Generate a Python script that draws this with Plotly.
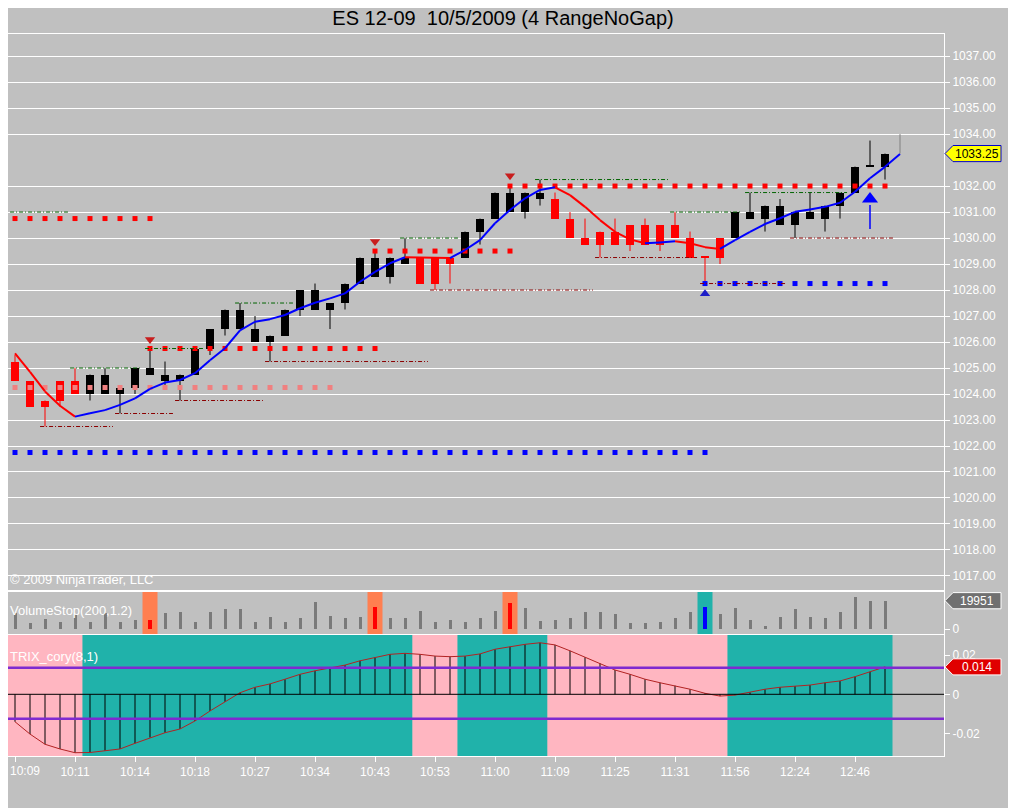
import plotly.graph_objects as go
from plotly.subplots import make_subplots

# ---- dados (range bars de 4 ticks, ultima barra ainda em formacao)
opens = [1025.25, 1024.5, 1023.75, 1024.5, 1024.5, 1024.0, 1024.0, 1024.0, 1024.25, 1024.75,
         1024.5, 1024.5, 1024.75, 1025.75, 1026.5, 1026.5, 1026.0, 1026.0, 1026.25, 1027.25,
         1027.25, 1027.25, 1027.5, 1028.25, 1028.5, 1028.5, 1029.0, 1029.25, 1029.25, 1029.25,
         1029.25, 1030.25, 1030.75, 1031.0, 1031.0, 1031.5, 1031.5, 1030.75, 1030.0, 1030.25,
         1030.25, 1030.5, 1030.5, 1030.5, 1030.5, 1030.0, 1029.25, 1030.0, 1030.0, 1030.75,
         1030.75, 1030.5, 1030.5, 1030.75, 1030.75, 1031.25, 1031.75, 1032.75, 1032.75, 1033.25]
highs = [1025.5, 1024.5, 1023.75, 1024.5, 1025.0, 1024.75, 1025.0, 1024.25, 1025.0, 1025.75,
         1025.25, 1024.75, 1025.75, 1026.5, 1027.25, 1027.5, 1027.0, 1026.25, 1027.25, 1028.0,
         1028.25, 1027.5, 1028.25, 1029.25, 1029.5, 1029.25, 1030.0, 1029.25, 1029.25, 1029.25,
         1030.25, 1030.75, 1031.75, 1032.0, 1031.75, 1032.25, 1031.75, 1031.0, 1030.75, 1030.25,
         1030.75, 1030.5, 1030.75, 1030.5, 1031.0, 1030.25, 1029.25, 1030.0, 1031.0, 1031.75,
         1031.25, 1031.5, 1031.0, 1031.75, 1031.25, 1031.75, 1032.75, 1033.75, 1033.25, 1034.0]
lows = [1024.5, 1023.5, 1022.75, 1023.5, 1024.0, 1023.75, 1024.0, 1023.25, 1024.0, 1024.75,
        1024.25, 1023.75, 1024.75, 1025.5, 1026.25, 1026.5, 1026.0, 1025.25, 1026.25, 1027.0,
        1027.25, 1026.5, 1027.25, 1028.25, 1028.5, 1028.25, 1029.0, 1028.25, 1028.0, 1028.25,
        1029.25, 1029.75, 1030.75, 1031.0, 1030.75, 1031.25, 1030.75, 1030.0, 1029.75, 1029.25,
        1029.75, 1029.5, 1029.75, 1029.5, 1030.0, 1029.25, 1028.25, 1029.0, 1030.0, 1030.75,
        1030.25, 1030.5, 1030.0, 1030.75, 1030.25, 1030.75, 1031.75, 1032.75, 1032.25, 1033.25]
closes = [1024.5, 1023.5, 1023.5, 1023.75, 1024.0, 1024.75, 1024.75, 1024.25, 1025.0, 1025.0,
          1024.75, 1024.75, 1025.75, 1026.5, 1027.25, 1027.25, 1026.5, 1026.25, 1027.25, 1028.0,
          1028.0, 1027.5, 1028.25, 1029.25, 1029.25, 1029.25, 1029.25, 1028.25, 1028.25, 1029.0,
          1030.25, 1030.75, 1031.75, 1031.75, 1031.75, 1031.75, 1030.75, 1030.0, 1029.75, 1029.75,
          1029.75, 1029.75, 1029.75, 1029.75, 1030.0, 1029.25, 1029.25, 1029.25, 1031.0, 1031.0,
          1031.25, 1031.25, 1031.0, 1031.0, 1031.25, 1031.75, 1032.75, 1032.75, 1033.25, 1033.25]

# media movel (vermelha quando cai, azul quando sobe)
ema = [1025.56, 1024.85, 1024.1, 1023.55, 1023.13, 1023.26, 1023.38, 1023.58, 1023.83, 1024.2,
       1024.44, 1024.54, 1024.8, 1025.3, 1025.76, 1026.45, 1026.78, 1026.88, 1027.04, 1027.3,
       1027.51, 1027.68, 1027.87, 1028.32, 1028.7, 1029.03, 1029.26, 1029.25, 1029.24, 1029.23,
       1029.54, 1029.92, 1030.57, 1031.08, 1031.53, 1031.85, 1031.95, 1031.65, 1031.2, 1030.69,
       1030.24, 1029.95, 1029.8, 1029.83, 1029.88, 1029.8, 1029.65, 1029.58, 1029.92, 1030.24,
       1030.54, 1030.76, 1031.01, 1031.1, 1031.2, 1031.36, 1031.78, 1032.3, 1032.74, 1033.23]

volume = [11050, 4460, 6810, 5170, 9870, 5170, 11050, 5170, 6350, 6350,
          11050, 12220, 5170, 12220, 13870, 13870, 5170, 8690, 5170, 7520,
          18800, 9400, 7990, 8690, 15750, 7990, 7990, 12920, 4700, 6350,
          5170, 7990, 12690, 18560, 15040, 5870, 6350, 7520, 12220, 11750,
          10580, 3990, 3990, 4700, 7520, 12220, 15750, 10340, 15040, 6350,
          2350, 8690, 13870, 8690, 7520, 12220, 22790, 19900, 19951]

trix = [-0.014, -0.0203, -0.0255, -0.0279, -0.0298, -0.0297, -0.0288, -0.0279, -0.025, -0.0221,
        -0.0196, -0.0177, -0.0136, -0.0085, -0.0038, 0.0008, 0.0036, 0.0053, 0.0077, 0.0102,
        0.012, 0.0133, 0.0149, 0.0171, 0.0189, 0.0204, 0.0209, 0.0204, 0.0195, 0.0192,
        0.0195, 0.0206, 0.023, 0.0243, 0.0255, 0.0263, 0.0252, 0.0222, 0.0189, 0.0158,
        0.0124, 0.0102, 0.0077, 0.0059, 0.0044, 0.0026, 0.0005, -0.0009, -0.0004, 0.001,
        0.0026, 0.0036, 0.0042, 0.0047, 0.0059, 0.0068, 0.009, 0.0115, 0.014]
trix_levels = [0.0135, -0.0125]

time_labels = ["10:09", "10:11", "10:14", "10:18", "10:27", "10:34", "10:43", "10:53",
               "11:00", "11:09", "11:25", "11:31", "11:56", "12:24", "12:46"]
time_label_bars = [0, 4, 8, 12, 16, 20, 24, 28, 32, 36, 40, 44, 48, 52, 56]
price_ticks = list(range(1017, 1038))

# linhas de stop pontilhadas (nivel, barra inicial, barra final)
stop_red_level = [1030.75, 1025.75, 1029.5, 1032.0]
stop_red_from = [0, 9, 24, 33]
stop_red_to = [9, 24, 33, 58]
stop_salmon_level = [1024.25]
stop_salmon_from = [0]
stop_salmon_to = [21]
stop_blue_level = [1021.75, 1028.25]
stop_blue_from = [0, 46]
stop_blue_to = [46, 58]

# resistencias (verde) e suportes (vermelho escuro)
res_level = [1031.0, 1025.0, 1025.75, 1027.5, 1030.0, 1032.25, 1031.0, 1031.75]
res_from = [-0.33, 3.67, 8.67, 14.67, 25.67, 34.67, 43.67, 48.67]
res_to = [3.53, 8.33, 12.53, 18.53, 29.53, 43.53, 48.47, 55.47]
sup_level = [1022.75, 1023.25, 1023.75, 1025.25, 1028.0, 1029.25, 1028.25, 1030.0]
sup_from = [1.67, 6.67, 10.67, 16.67, 27.67, 38.67, 45.67, 51.67]
sup_to = [6.53, 10.53, 16.53, 27.53, 38.53, 45.47, 51.47, 58.53]

# sinais
sell_bars = [9, 24, 33]
sell_marks = [1026.1, 1029.87, 1032.4]
buy_bars = [46]
buy_marks = [1027.86]
arrow_bar = 57
arrow_low = 1030.35
arrow_high = 1031.72

BG = "#C0C0C0"
RED = "#FF0000"
BLUE = "#0000FF"
FONT = "Liberation Sans, Arial, sans-serif"

# a pagina tem margem de 8px no body: a figura ocupa o resto da janela
OFF = 8
W, H = 1016 - OFF, 808 - OFF
PLOT_W = 936

n = len(closes)
forming = n - 1


def px(xp):
    # pixel horizontal da janela -> coordenada paper
    return (xp - OFF) / PLOT_W


fig = make_subplots(rows=3, cols=1, shared_xaxes=True, vertical_spacing=0.0)

# ---- candles
colors = []
for i in range(n):
    if i == forming:
        colors.append("#808080")
    elif closes[i] > opens[i]:
        colors.append("black")
    elif closes[i] < opens[i]:
        colors.append(RED)
    else:
        colors.append("black" if highs[i] > highs[i - 1] else RED)

for col in ["black", RED, "#808080"]:
    xs, ys = [], []
    for i in range(n):
        if colors[i] == col:
            xs += [i, i, None]
            ys += [lows[i], highs[i], None]
    fig.add_trace(go.Scatter(x=xs, y=ys, mode="lines", line=dict(color=col, width=1),
                             hoverinfo="skip", showlegend=False), row=1, col=1)

body_idx = [i for i in range(n) if i != forming]
fig.add_trace(go.Bar(
    x=body_idx,
    base=[min(opens[i], closes[i]) for i in body_idx],
    y=[max(abs(closes[i] - opens[i]), 0.04) for i in body_idx],
    width=0.47, marker=dict(color=[colors[i] for i in body_idx], line=dict(width=0)),
    showlegend=False, hoverinfo="skip"), row=1, col=1)

# ---- linhas de stop (quadradinhos)
for levels, starts, ends, col in [(stop_red_level, stop_red_from, stop_red_to, RED),
                                  (stop_salmon_level, stop_salmon_from, stop_salmon_to, "#F08080"),
                                  (stop_blue_level, stop_blue_from, stop_blue_to, BLUE)]:
    xs, ys = [], []
    for lv, a, b in zip(levels, starts, ends):
        xs += list(range(a, b + 1))
        ys += [lv] * (b - a + 1)
    fig.add_trace(go.Scatter(x=xs, y=ys, mode="markers",
                             marker=dict(symbol="square", size=5, color=col),
                             showlegend=False, hoverinfo="skip"), row=1, col=1)

# ---- suportes / resistencias
for levels, starts, ends, col in [(res_level, res_from, res_to, "#006400"),
                                  (sup_level, sup_from, sup_to, "#8B0000")]:
    xs, ys = [], []
    for lv, a, b in zip(levels, starts, ends):
        xs += [a, b, None]
        ys += [lv, lv, None]
    fig.add_trace(go.Scatter(x=xs, y=ys, mode="lines",
                             line=dict(color=col, width=1, dash="4px,2px,1px,2px"),
                             showlegend=False, hoverinfo="skip"), row=1, col=1)

# ---- media colorida pela inclinacao
seg = {RED: ([], []), BLUE: ([], [])}
for k in range(len(ema) - 1):
    col = RED if ema[k + 1] < ema[k] else BLUE
    seg[col][0].extend([k, k + 1, None])
    seg[col][1].extend([ema[k], ema[k + 1], None])
for col, (xs, ys) in seg.items():
    fig.add_trace(go.Scatter(x=xs, y=ys, mode="lines", line=dict(color=col, width=2),
                             showlegend=False, hoverinfo="skip"), row=1, col=1)

# ---- sinais
fig.add_trace(go.Scatter(x=sell_bars, y=sell_marks, mode="markers",
                         marker=dict(symbol="triangle-down", size=9, color="#C81E1E"),
                         showlegend=False, hoverinfo="skip"), row=1, col=1)
fig.add_trace(go.Scatter(x=buy_bars, y=buy_marks, mode="markers",
                         marker=dict(symbol="triangle-up", size=9, color="#1E1EC8"),
                         showlegend=False, hoverinfo="skip"), row=1, col=1)
fig.add_trace(go.Scatter(x=[arrow_bar, arrow_bar], y=[arrow_low, arrow_high - 0.45], mode="lines",
                         line=dict(color=BLUE, width=1.5), showlegend=False, hoverinfo="skip"),
              row=1, col=1)
fig.add_trace(go.Scatter(x=[arrow_bar], y=[arrow_high - 0.22], mode="markers",
                         marker=dict(symbol="triangle-up", size=14, color=BLUE),
                         showlegend=False, hoverinfo="skip"), row=1, col=1)

# ---- volume
vx = list(range(len(volume)))
signal_bars = sell_bars + buy_bars
normal = [i for i in vx if i not in signal_bars]
fig.add_trace(go.Bar(x=normal, y=[volume[i] for i in normal], width=0.2,
                     marker=dict(color="#7A7A7A", line=dict(width=0)),
                     showlegend=False, hoverinfo="skip"), row=2, col=1)
fig.add_trace(go.Bar(x=signal_bars, y=[volume[i] for i in signal_bars], width=0.33,
                     marker=dict(color=[RED] * len(sell_bars) + [BLUE] * len(buy_bars), line=dict(width=0)),
                     showlegend=False, hoverinfo="skip"), row=2, col=1)

shapes = []
for i in sell_bars:
    shapes.append(dict(type="rect", xref="x2", yref="y2 domain", x0=i - 0.5, x1=i + 0.5, y0=0, y1=1,
                       fillcolor="#FF7F50", line=dict(width=0), layer="below"))
for i in buy_bars:
    shapes.append(dict(type="rect", xref="x2", yref="y2 domain", x0=i - 0.5, x1=i + 0.5, y0=0, y1=1,
                       fillcolor="#20B2AA", line=dict(width=0), layer="below"))

# ---- TRIX: fundo pela inclinacao
rising = [False] + [trix[i] > trix[i - 1] for i in range(1, len(trix))]
start = 0
for i in range(1, len(trix) + 1):
    if i == len(trix) or rising[i] != rising[start]:
        shapes.append(dict(type="rect", xref="x3", yref="y3 domain", x0=start - 0.5, x1=i - 0.5,
                           y0=0, y1=1, fillcolor="#20B2AA" if rising[start] else "#FFB6C1",
                           line=dict(width=0), layer="below"))
        start = i

tx, ty = [], []
for i, v in enumerate(trix):
    tx += [i, i, None]
    ty += [0, v, None]
fig.add_trace(go.Scatter(x=tx, y=ty, mode="lines", line=dict(color="black", width=1),
                         showlegend=False, hoverinfo="skip"), row=3, col=1)
fig.add_trace(go.Scatter(x=list(range(len(trix))), y=trix, mode="lines",
                         line=dict(color="#B22222", width=1), showlegend=False, hoverinfo="skip"),
              row=3, col=1)

shapes.append(dict(type="line", xref="x3 domain", yref="y3", x0=0, x1=1, y0=0, y1=0,
                   line=dict(color="black", width=1)))
for lv in trix_levels:
    shapes.append(dict(type="line", xref="x3 domain", yref="y3", x0=0, x1=1, y0=lv, y1=lv,
                       line=dict(color="#7F2AD0", width=2.5)))


# ---- etiquetas do ultimo valor no eixo direito
def tag(yref, yv, half, fill, border):
    x_tip, x_l, x_r = px(945), px(953), px(1001)
    path = (f"M {x_tip} {yv} L {x_l} {yv + half} L {x_r} {yv + half} "
            f"L {x_r} {yv - half} L {x_l} {yv - half} Z")
    shapes.append(dict(type="path", xref="paper", yref=yref, path=path,
                       fillcolor=fill, line=dict(color=border, width=1), layer="above"))


tag("y", closes[-1], 0.31, "#FFFF00", "#0000CD")
tag("y2", volume[-1], 5700, "#707070", "white")
tag("y3", trix[-1], 0.0041, "#E00000", "white")

annotations = [
    dict(xref="paper", yref="y", x=px(977), y=closes[-1], text=f"{closes[-1]:.2f}", showarrow=False,
         xanchor="center", font=dict(family=FONT, size=12, color="black")),
    dict(xref="paper", yref="y2", x=px(977), y=volume[-1], text=str(volume[-1]), showarrow=False,
         xanchor="center", font=dict(family=FONT, size=12, color="white")),
    dict(xref="paper", yref="y3", x=px(977), y=trix[-1], text=f"{trix[-1]:.3f}", showarrow=False,
         xanchor="center", font=dict(family=FONT, size=12, color="white")),
    dict(xref="paper", yref="y domain", x=0, y=0, xanchor="left", yanchor="bottom", yshift=1,
         text="© 2009 NinjaTrader, LLC", showarrow=False, font=dict(family=FONT, size=13, color="white")),
    dict(xref="paper", yref="y2 domain", x=0, y=1, xanchor="left", yanchor="top", yshift=-9,
         text="VolumeStop(200,1.2)", showarrow=False, font=dict(family=FONT, size=13, color="white")),
    dict(xref="paper", yref="y3 domain", x=0, y=1, xanchor="left", yanchor="top", yshift=-12,
         text="TRIX_cory(8,1)", showarrow=False, font=dict(family=FONT, size=13, color="white")),
    # primeiro rotulo de hora encosta na borda esquerda
    dict(xref="paper", yref="paper", x=0, y=0, xanchor="left", yanchor="top", yshift=-6,
         text=time_labels[0], showarrow=False, font=dict(family=FONT, size=12, color="white")),
]

axis_common = dict(showline=True, linecolor="white", linewidth=1, mirror=True, zeroline=False,
                   automargin=False, tickfont=dict(family=FONT, size=12, color="white"))

# o rotulo de preco esconde o tick que fica por baixo dele
shown_ticks = [t for t in price_ticks if abs(t - closes[-1]) > 0.5]

fig.update_layout(
    width=W, height=H,
    paper_bgcolor=BG, plot_bgcolor=BG,
    margin=dict(l=0, r=W - PLOT_W, t=34 - OFF, b=52, autoexpand=False),
    barmode="overlay", bargap=0,
    showlegend=False,
    title=dict(text="ES 12-09 \u00a010/5/2009 (4 RangeNoGap)", x=(503 - OFF) / W, xref="container",
               xanchor="center", y=1 - (18 - OFF) / H, yref="container", yanchor="middle",
               font=dict(family=FONT, size=20, color="black")),
    shapes=shapes, annotations=annotations,
    yaxis=dict(domain=[166 / 722, 1], range=[1016.46, 1037.85], side="right",
               tickvals=shown_ticks, ticktext=[f"{t:.2f}" for t in shown_ticks],
               showgrid=True, gridcolor="white", gridwidth=1,
               ticks="outside", ticklen=5, tickcolor="white", **axis_common),
    yaxis2=dict(domain=[122 / 722, 164 / 722], range=[-3525, 26085], side="right", tickvals=[0],
                ticktext=["0"], showgrid=False, ticks="outside", ticklen=5, tickcolor="white",
                **axis_common),
    yaxis3=dict(domain=[0, 121 / 722], range=[-0.03148, 0.03026], side="right",
                tickvals=[-0.02, 0, 0.02], ticktext=["-0.02", "0", "0.02"], showgrid=False,
                ticks="outside", ticklen=5, tickcolor="white", **axis_common),
)
fig.update_xaxes(range=[-(15 - OFF) / 15, -(15 - OFF) / 15 + PLOT_W / 15], showgrid=False, **axis_common)
fig.update_xaxes(tickvals=time_label_bars, ticktext=[""] + time_labels[1:], ticks="outside", ticklen=5,
                 tickcolor="white", row=3, col=1)

fig.write_html("out.html")
